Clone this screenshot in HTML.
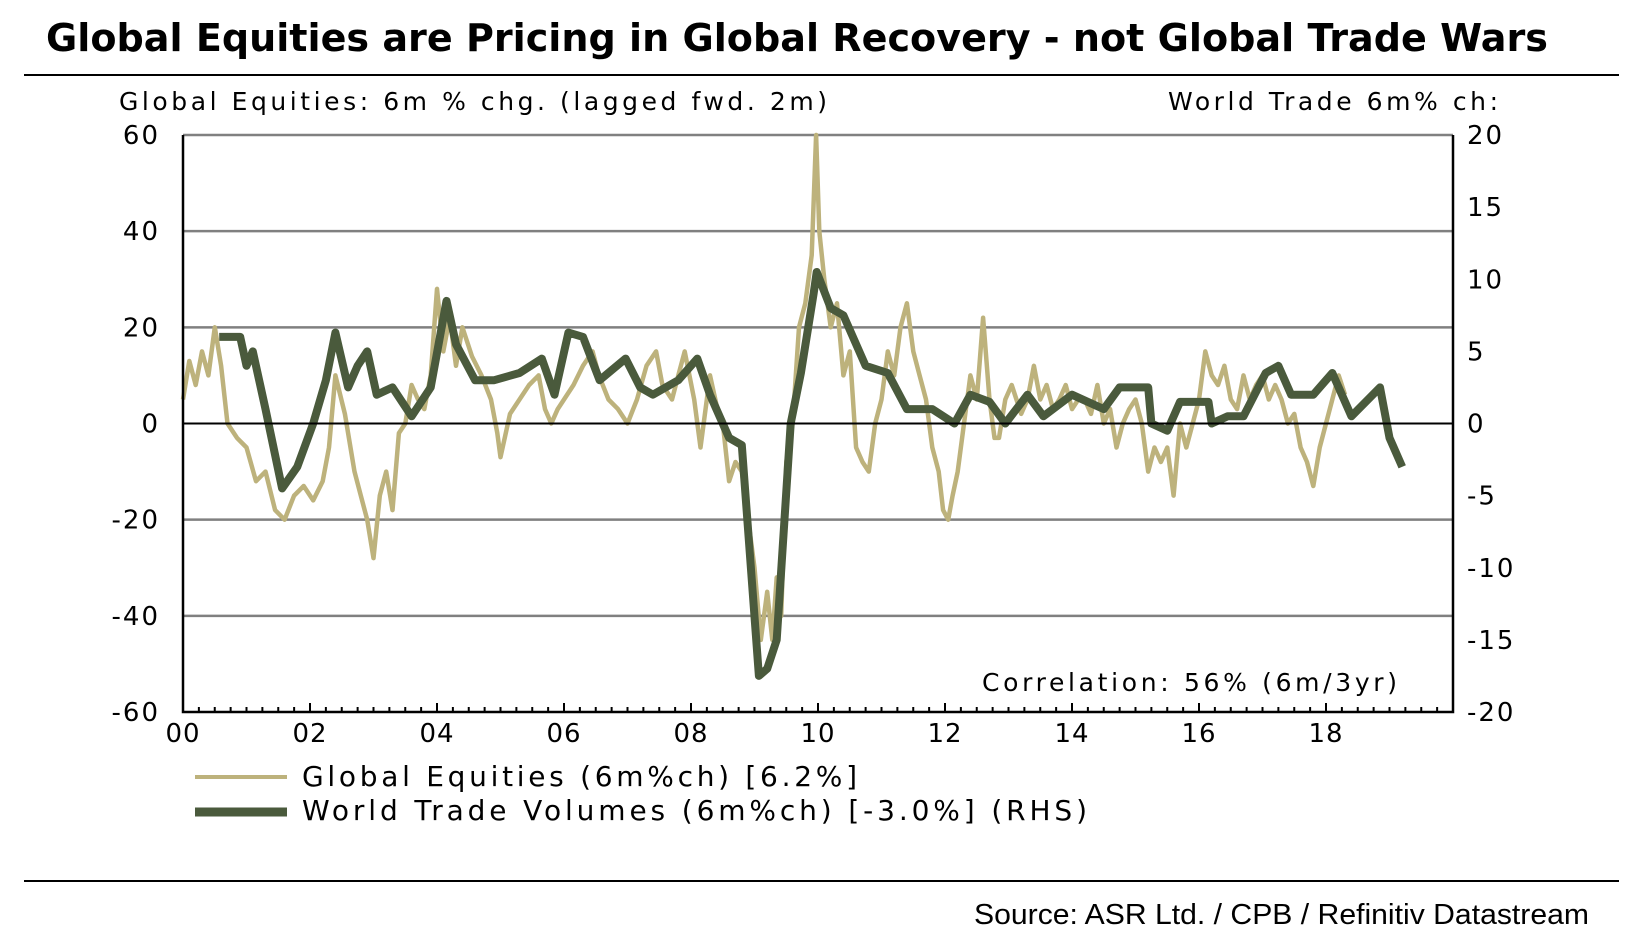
<!DOCTYPE html>
<html><head><meta charset="utf-8">
<style>
body{margin:0;background:#fff;width:1635px;height:940px;overflow:hidden;font-family:"DejaVu Sans","Liberation Sans",sans-serif;}
svg{position:absolute;left:0;top:0}
</style></head>
<body>
<svg id="chart" width="1635" height="940">
<text x="46" y="51" font-size="38" font-weight="bold" fill="#000" textLength="1502" lengthAdjust="spacingAndGlyphs">Global Equities are Pricing in Global Recovery - not Global Trade Wars</text>
<line x1="24" y1="75" x2="1619" y2="75" stroke="#000" stroke-width="2"/>
<text x="119" y="110" font-size="25" textLength="708" lengthAdjust="spacing">Global Equities: 6m % chg. (lagged fwd. 2m)</text>
<text x="1168" y="110" font-size="25" textLength="330" lengthAdjust="spacing">World Trade 6m% ch:</text>
<g id="grid"></g>
<g id="series"></g>
<g id="axes"></g>
<text x="982" y="691" font-size="25" textLength="415" lengthAdjust="spacing">Correlation: 56% (6m/3yr)</text>
<line x1="195" y1="777" x2="287" y2="777" stroke="#bdb27c" stroke-width="4"/>
<text x="302" y="786" font-size="28" textLength="555" lengthAdjust="spacing">Global Equities (6m%ch) [6.2%]</text>
<line x1="195" y1="812" x2="287" y2="812" stroke="#4a5a3c" stroke-width="9"/>
<text x="302" y="820" font-size="28" textLength="785" lengthAdjust="spacing">World Trade Volumes (6m%ch) [-3.0%] (RHS)</text>
<line x1="24" y1="881" x2="1619" y2="881" stroke="#000" stroke-width="2"/>
<text x="974" y="924" font-size="29" textLength="615" lengthAdjust="spacingAndGlyphs" font-family="Liberation Sans, sans-serif">Source: ASR Ltd. / CPB / Refinitiv Datastream</text>
</svg>
<script>
const eqYears=[2000.0,2000.1,2000.2,2000.3,2000.4,2000.5,2000.6,2000.7,2000.85,2001.0,2001.15,2001.3,2001.45,2001.6,2001.75,2001.9,2002.05,2002.2,2002.3,2002.4,2002.55,2002.7,2002.8,2002.9,2003.0,2003.1,2003.2,2003.3,2003.4,2003.5,2003.6,2003.7,2003.8,2003.9,2004.0,2004.1,2004.2,2004.3,2004.4,2004.55,2004.7,2004.85,2004.95,2005.0,2005.15,2005.3,2005.45,2005.6,2005.7,2005.8,2005.9,2006.0,2006.15,2006.3,2006.45,2006.55,2006.7,2006.85,2007.0,2007.15,2007.3,2007.45,2007.55,2007.7,2007.8,2007.9,2008.05,2008.15,2008.3,2008.4,2008.5,2008.6,2008.7,2008.8,2008.9,2009.0,2009.1,2009.2,2009.28,2009.35,2009.42,2009.5,2009.6,2009.7,2009.8,2009.9,2009.97,2010.02,2010.1,2010.2,2010.3,2010.4,2010.5,2010.6,2010.7,2010.8,2010.9,2011.0,2011.1,2011.2,2011.3,2011.4,2011.5,2011.6,2011.7,2011.8,2011.9,2011.97,2012.05,2012.12,2012.2,2012.3,2012.4,2012.5,2012.6,2012.7,2012.78,2012.85,2012.95,2013.05,2013.2,2013.3,2013.4,2013.5,2013.6,2013.7,2013.8,2013.9,2014.0,2014.1,2014.2,2014.3,2014.4,2014.5,2014.6,2014.7,2014.8,2014.9,2015.0,2015.1,2015.2,2015.3,2015.4,2015.5,2015.6,2015.7,2015.8,2015.9,2016.0,2016.1,2016.2,2016.3,2016.4,2016.5,2016.6,2016.7,2016.8,2016.9,2017.0,2017.1,2017.2,2017.3,2017.4,2017.5,2017.6,2017.7,2017.8,2017.9,2018.0,2018.1,2018.2,2018.3,2018.4,2018.5,2018.6,2018.7,2018.8,2018.9,2019.0,2019.1,2019.2,2019.3,2019.4,2019.5,2019.58,2019.65];
const eqVals=[5,13,8,15,10,20,12,0,-3,-5,-12,-10,-18,-20,-15,-13,-16,-12,-5,10,2,-10,-15,-20,-28,-15,-10,-18,-2,0,8,5,3,10,28,15,22,12,20,14,10,5,-2,-7,2,5,8,10,3,0,3,5,8,12,15,10,5,3,0,5,12,15,8,5,10,15,5,-5,10,4,0,-12,-8,-10,-20,-30,-45,-35,-45,-32,-40,-8,0,20,25,35,60,40,30,20,25,10,15,-5,-8,-10,0,5,15,10,20,25,15,10,5,-5,-10,-18,-20,-15,-10,0,10,5,22,5,-3,-3,5,8,2,5,12,5,8,3,5,8,3,5,5,2,8,0,3,-5,0,3,5,0,-10,-5,-8,-5,-15,0,-5,0,5,15,10,8,12,5,3,10,5,8,10,5,8,5,0,2,-5,-8,-13,-5,0,5,10,6];
const trYears=[2000.57,2000.9,2001.0,2001.1,2001.3,2001.56,2001.8,2002.05,2002.25,2002.4,2002.6,2002.75,2002.9,2003.05,2003.3,2003.6,2003.9,2004.15,2004.3,2004.6,2004.9,2005.3,2005.65,2005.85,2006.07,2006.3,2006.56,2006.97,2007.2,2007.4,2007.8,2008.1,2008.3,2008.6,2008.8,2009.07,2009.2,2009.35,2009.57,2009.73,2009.93,2009.98,2010.2,2010.4,2010.75,2011.1,2011.4,2011.8,2012.15,2012.4,2012.7,2012.95,2013.3,2013.55,2014.0,2014.5,2014.75,2015.2,2015.25,2015.5,2015.7,2016.15,2016.2,2016.45,2016.7,2017.05,2017.25,2017.45,2017.8,2018.1,2018.4,2018.85,2019.0,2019.2];
const trVals=[6,6,4,5,1,-4.5,-3,0,3,6.3,2.5,4,5,2,2.5,0.5,2.5,8.5,5.5,3,3,3.5,4.5,2,6.3,6,3,4.5,2.5,2,3,4.5,2,-1,-1.5,-17.5,-17,-15,0,3.5,9,10.5,8,7.5,4,3.5,1,1,0,2,1.5,0,2,0.5,2,1,2.5,2.5,0,-0.5,1.5,1.5,0,0.5,0.5,3.5,4,2,2,3.5,0.5,2.5,-1,-3];
const leftTicks=[60,40,20,0,-20,-40,-60];
const rightTicks=[20,15,10,5,0,-5,-10,-15,-20];
const xLabels=["00","02","04","06","08","10","12","14","16","18"];
const X0=183,X1=1453,Y0=135,Y1=712;
const xs=y=>X0+(y-2000)/20*(X1-X0);
const yl=v=>Y0+(60-v)/120*(Y1-Y0);
const yr=v=>Y0+(20-v)/40*(Y1-Y0);
const NS="http://www.w3.org/2000/svg";
function mk(tag,attrs,parent){const e=document.createElementNS(NS,tag);for(const k in attrs)e.setAttribute(k,attrs[k]);document.getElementById(parent).appendChild(e);return e;}
leftTicks.forEach(v=>{
  if(v!==60&&v!==-60&&v!==0){const g=mk('line',{x1:X0,x2:X1,y1:yl(v),y2:yl(v),stroke:'#808080','stroke-width':2.5},'grid');
  
  }
  const t=mk('text',{x:160,y:yl(v)+9,'font-size':26,'text-anchor':'end','letter-spacing':2},'axes');t.textContent=v;
  
  
});
const gt=mk('line',{x1:X0,x2:X1,y1:Y0,y2:Y0,stroke:'#808080','stroke-width':2.5},'grid');


rightTicks.forEach(v=>{
  const t=mk('text',{x:1467,y:yr(v)+9,'font-size':26,'letter-spacing':2},'axes');t.textContent=v;
  
  
});
xLabels.forEach((l,i)=>{
  const t=mk('text',{x:xs(2000+2*i),y:742,'font-size':26,'text-anchor':'middle','letter-spacing':1},'axes');t.textContent=l;
  
  
});
for(let q=0;q<80;q++){const yy=2000+q/4;const big=q%8===0;
  const tk=mk('line',{x1:xs(yy),x2:xs(yy),y1:Y1,y2:Y1-(big?9:5),stroke:'#000','stroke-width':2},'axes');
  
  }
const zl=mk('line',{x1:X0,x2:X1,y1:yl(0),y2:yl(0),stroke:'#000','stroke-width':2},'axes');


const fr=mk('path',{d:`M${X0},${Y0}V${Y1}H${X1}V${Y0}`,fill:'none',stroke:'#000','stroke-width':2.5},'axes');


const eq=mk('polyline',{points:eqYears.map((y,i)=>xs(y).toFixed(1)+','+yl(eqVals[i]).toFixed(1)).join(' '),fill:'none',stroke:'#bdb27c','stroke-width':4.5,'stroke-linejoin':'round'},'series');


const tr=mk('polyline',{points:trYears.map((y,i)=>xs(y).toFixed(1)+','+yr(trVals[i]).toFixed(1)).join(' '),fill:'none',stroke:'#4a5a3c','stroke-width':8,'stroke-linejoin':'round'},'series');


</script>
</body></html>
